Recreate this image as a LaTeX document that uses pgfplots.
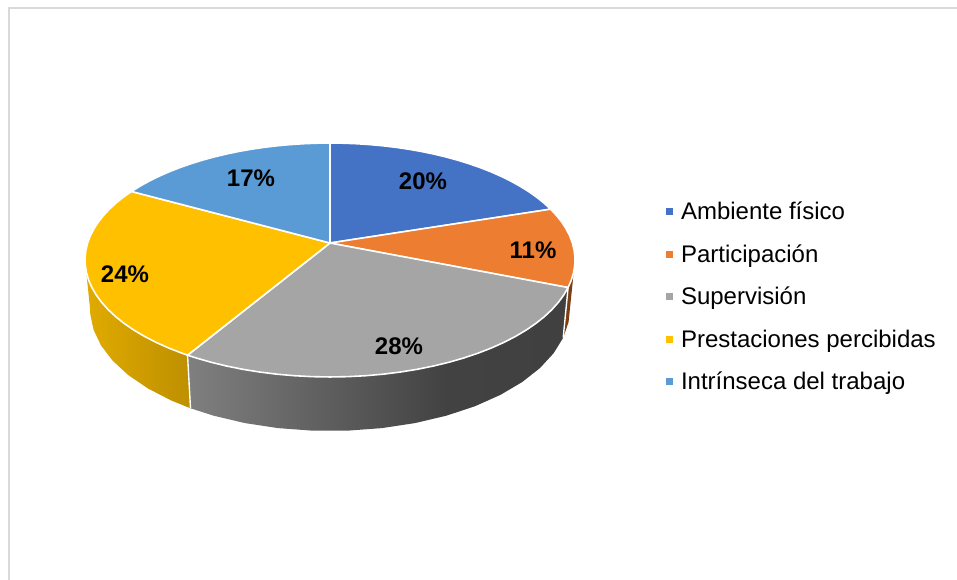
\documentclass[border=0pt]{standalone}
\usepackage{fontspec}
\setmainfont{Liberation Sans}
\usepackage{pgfplots}
\usepackage{pgfplotstable}
\pgfplotsset{compat=1.18}

\definecolor{cA}{HTML}{4472C4}
\definecolor{cB}{HTML}{ED7D31}
\definecolor{cC}{HTML}{A5A5A5}
\definecolor{cD}{HTML}{FFC000}
\definecolor{cE}{HTML}{5B9BD5}
\definecolor{frame}{HTML}{D9D9D9}
\definecolor{wallB}{HTML}{7A3E12}

% Side wall shadings; the path's box spans 25bp to 75bp of the shading.
\pgfdeclarehorizontalshading{wallGray}{100bp}{
  color(0bp)=(black!50); color(25bp)=(black!50); color(46bp)=(black!65);
  color(59bp)=(black!74); color(75bp)=(black!75); color(100bp)=(black!75)}
\definecolor{yl}{HTML}{E0AB00}
\definecolor{yr}{HTML}{BE8F00}
\pgfdeclarehorizontalshading{wallGold}{100bp}{
  color(0bp)=(yl); color(25bp)=(yl); color(75bp)=(yr); color(100bp)=(yr)}

% Perspective view of the disc: p is the cumulative percentage clockwise
% from the top, r the radius (0 centre, 1 rim), z the depth (0 top, 1 base).
\pgfmathdeclarefunction{pieX}{3}{%
  \pgfmathparse{330+#2*(242.4-5*#3)*sin(3.6*#1)/(1+0.1453*cos(3.6*#1))}}
\pgfmathdeclarefunction{pieY}{3}{%
  \pgfmathparse{243+48.3*#3-#2*(114.5+4.9*#3)*cos(3.6*#1)/(1+0.1453*cos(3.6*#1))}}

% Slices: 20, 11, 27.6, 24.4 and 17 per cent
\pgfplotstableread[row sep=\\]{p r\\ 0 0\\ 0 1\\ 1 1\\ 2 1\\ 3 1\\ 4 1\\ 5 1\\ 6 1\\ 7 1\\ 8 1\\ 9 1\\ 10 1\\ 11 1\\ 12 1\\ 13 1\\ 14 1\\ 15 1\\ 16 1\\ 17 1\\ 18 1\\ 19 1\\ 20 1\\ 20 0\\}\sliceA
\pgfplotstableread[row sep=\\]{p r\\ 20 0\\ 20 1\\ 21 1\\ 22 1\\ 23 1\\ 24 1\\ 25 1\\ 26 1\\ 27 1\\ 28 1\\ 29 1\\ 30 1\\ 31 1\\ 31 0\\}\sliceB
\pgfplotstableread[row sep=\\]{p r\\ 31 0\\ 31 1\\ 32 1\\ 33 1\\ 34 1\\ 35 1\\ 36 1\\ 37 1\\ 38 1\\ 39 1\\ 40 1\\ 41 1\\ 42 1\\ 43 1\\ 44 1\\ 45 1\\ 46 1\\ 47 1\\ 48 1\\ 49 1\\ 50 1\\ 51 1\\ 52 1\\ 53 1\\ 54 1\\ 55 1\\ 56 1\\ 57 1\\ 58 1\\ 58.6 1\\ 58.6 0\\}\sliceC
\pgfplotstableread[row sep=\\]{p r\\ 58.6 0\\ 58.6 1\\ 59 1\\ 60 1\\ 61 1\\ 62 1\\ 63 1\\ 64 1\\ 65 1\\ 66 1\\ 67 1\\ 68 1\\ 69 1\\ 70 1\\ 71 1\\ 72 1\\ 73 1\\ 74 1\\ 75 1\\ 76 1\\ 77 1\\ 78 1\\ 79 1\\ 80 1\\ 81 1\\ 82 1\\ 83 1\\ 83 0\\}\sliceD
\pgfplotstableread[row sep=\\]{p r\\ 83 0\\ 83 1\\ 84 1\\ 85 1\\ 86 1\\ 87 1\\ 88 1\\ 89 1\\ 90 1\\ 91 1\\ 92 1\\ 93 1\\ 94 1\\ 95 1\\ 96 1\\ 97 1\\ 98 1\\ 99 1\\ 100 1\\ 100 0\\}\sliceE

% Side walls: rim at z=0 forwards, base at z=1 backwards
\pgfplotstableread[row sep=\\]{p z\\ 27.3 0\\ 29 0\\ 31 0\\ 31 1\\ 29 1\\ 27.3 1\\}\wallBtab
\pgfplotstableread[row sep=\\]{p z\\ 31 0\\ 33 0\\ 35 0\\ 37 0\\ 39 0\\ 41 0\\ 43 0\\ 45 0\\ 47 0\\ 49 0\\ 51 0\\ 53 0\\ 55 0\\ 57 0\\ 58.6 0\\ 58.6 1\\ 57 1\\ 55 1\\ 53 1\\ 51 1\\ 49 1\\ 47 1\\ 45 1\\ 43 1\\ 41 1\\ 39 1\\ 37 1\\ 35 1\\ 33 1\\ 31 1\\}\wallCtab
\pgfplotstableread[row sep=\\]{p z\\ 58.6 0\\ 60 0\\ 62 0\\ 64 0\\ 66 0\\ 68 0\\ 70 0\\ 72 0\\ 72.7 0\\ 72.7 1\\ 72 1\\ 70 1\\ 68 1\\ 66 1\\ 64 1\\ 62 1\\ 60 1\\ 58.6 1\\}\wallDtab
\pgfplotstableread[row sep=\\]{p z\\ 31 0\\ 31 1\\}\edgeBC
\pgfplotstableread[row sep=\\]{p z\\ 58.6 0\\ 58.6 1\\}\edgeCD

\pgfplotsset{
  slice/.style={fill=#1, draw=white, line width=1.6pt, line join=round},
  wall/.style={draw=none, forget plot},
  table/rimxy/.style={x expr={pieX(\thisrow{p},\thisrow{r},0)}, y expr={pieY(\thisrow{p},\thisrow{r},0)}},
  table/wallxy/.style={x expr={pieX(\thisrow{p},1,\thisrow{z})}, y expr={pieY(\thisrow{p},1,\thisrow{z})}},
}

\begin{document}
\begin{tikzpicture}
\path[use as bounding box, fill=white] (0,0) rectangle (957bp,580bp);
\begin{axis}[
  at={(0,0)}, anchor=south west,
  width=957bp, height=580bp, scale only axis,
  xmin=0, xmax=957, ymin=0, ymax=580, y dir=reverse,
  hide axis, clip=false,
  legend image code/.code={\path[#1,draw=none,line width=0pt] (0bp,-3.5bp) -- (7bp,-3.5bp) -- (7bp,3.5bp) -- (0bp,3.5bp) -- cycle;},
  legend cell align=left,
  legend style={
    at={(axis cs:666,202)}, anchor=north west, draw=none, fill=none,
    inner sep=0pt, outer sep=0pt, row sep={42.5bp,between origins}, column sep=8bp,
    font=\fontsize{24bp}{28bp}\selectfont,
    nodes={inner sep=0pt, outer sep=0pt},
  },
]
\draw[frame, line width=2bp] (axis cs:9,580) -- (axis cs:9,8) -- (axis cs:957,8);

\addplot[wall, fill=wallB] table[wallxy] {\wallBtab};
\addplot[wall, shading=wallGold] table[wallxy] {\wallDtab};
\addplot[wall, shading=wallGray] table[wallxy] {\wallCtab};
\addplot[forget plot, draw=white, line width=1.4pt] table[wallxy] {\edgeBC};
\addplot[forget plot, draw=white, line width=1.4pt] table[wallxy] {\edgeCD};

\addplot[slice=cA] table[rimxy] {\sliceA};
\addplot[slice=cB] table[rimxy] {\sliceB};
\addplot[slice=cC] table[rimxy] {\sliceC};
\addplot[slice=cD] table[rimxy] {\sliceD};
\addplot[slice=cE] table[rimxy] {\sliceE};
\legend{Ambiente físico,Participación,Supervisión,Prestaciones percibidas,Intrínseca del trabajo}

\begin{scope}[every node/.style={font=\fontsize{24bp}{28bp}\selectfont\bfseries, text=black}]
\node at (axis cs:423,181) {20\%};
\node at (axis cs:533,250) {11\%};
\node at (axis cs:399,346) {28\%};
\node at (axis cs:125,274) {24\%};
\node at (axis cs:251,178) {17\%};
\end{scope}
\end{axis}
\end{tikzpicture}
\end{document}
